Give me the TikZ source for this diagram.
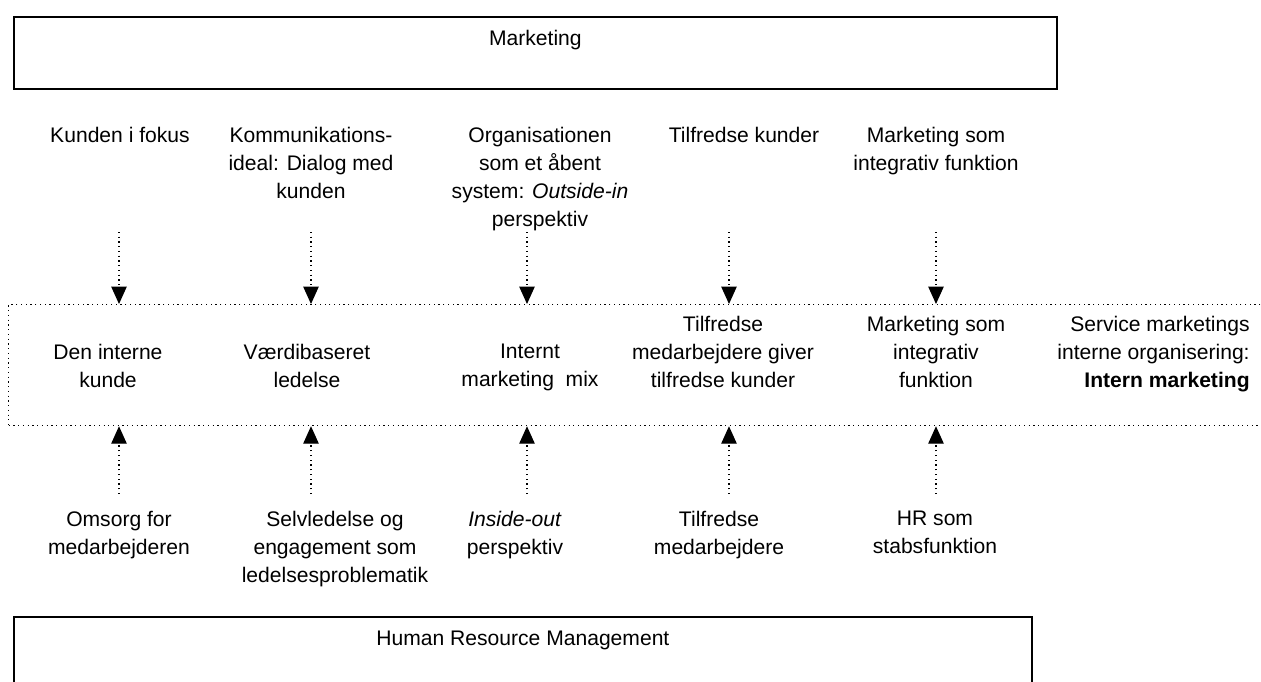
\documentclass[tikz,border=0pt]{standalone}
\usepackage{fontspec}
\setmainfont{Liberation Sans}
\usetikzlibrary{arrows.meta}

\tikzset{
  txt/.style={font=\fontsize{12}{16}\selectfont, align=center, inner sep=0pt},
  bigbox/.style={draw, line width=1pt, inner sep=0pt, font=\fontsize{12}{16}\selectfont, text height=5.8mm, text depth=8.6mm, anchor=north west},
  frame/.style={draw, dotted, line width=0.7pt, inner sep=0pt, anchor=north west},
  arr/.style={dotted, line width=0.7pt, -{Triangle[length=3.5mm,width=3.1mm]}}
}

\begin{document}
\begin{tikzpicture}[x=0.2mm,y=-0.2mm]
            \useasboundingbox (0,0) rectangle (1261,682);
            \node[bigbox, minimum width=208.6mm] (mkt) at (13,16) {Marketing};
            \node[bigbox, minimum width=203.6mm] (hrm) at (13,616) {Human Resource Management};
            \node[frame, minimum width=254mm, minimum height=24.2mm] (frame) at (8,304) {};
            \node[txt, anchor=north] (top1) at (120,127) {Kunden i fokus};
            \node[txt, anchor=north] (top2) at (311,127) {Kommunikations-\\ideal: Dialog med\\kunden};
            \node[txt, anchor=north] (top3) at (540,127) {Organisationen\\som et åbent\\system: \textit{Outside-in}\\perspektiv};
            \node[txt, anchor=north] (top4) at (744,127) {Tilfredse kunder};
            \node[txt, anchor=north] (top5) at (936,127) {Marketing som\\integrativ funktion};
            \node[txt, anchor=north] (mid1) at (108,343.5) {Den interne\\kunde};
            \node[txt, anchor=north] (mid2) at (307,343.5) {Værdibaseret\\ledelse};
            \node[txt, anchor=north] (mid3) at (530,343.5) {Internt\\marketing~ mix};
            \node[txt, anchor=north] (mid4) at (723,315.5) {Tilfredse\\medarbejdere giver\\tilfredse kunder};
            \node[txt, anchor=north] (mid5) at (936,315.5) {Marketing som\\integrativ\\funktion};
            \node[txt, anchor=north east, align=right] (mid6) at (1250,315.5) {Service marketings\\interne organisering:\\\textbf{Intern marketing}};
            \node[txt, anchor=north] (bot1) at (119,511) {Omsorg for\\medarbejderen};
            \node[txt, anchor=north] (bot2) at (335,511) {Selvledelse og\\engagement som\\ledelsesproblematik};
            \node[txt, anchor=north] (bot3) at (515,511) {\textit{Inside-out}\\perspektiv};
            \node[txt, anchor=north] (bot4) at (719,511) {Tilfredse\\medarbejdere};
            \node[txt, anchor=north] (bot5) at (935,511) {HR som\\stabsfunktion};
            \coordinate (up1) at (119,232);
            \coordinate (up2) at (311,232);
            \coordinate (up3) at (527,232);
            \coordinate (up4) at (729,232);
            \coordinate (up5) at (936,232);
            \coordinate (lo1) at (119,494);
            \coordinate (lo2) at (311,494);
            \coordinate (lo3) at (527,494);
            \coordinate (lo4) at (729,494);
            \coordinate (lo5) at (936,494);
            \draw[arr] (up1) -- (up1 |- frame.north);
            \draw[arr] (up2) -- (up2 |- frame.north);
            \draw[arr] (up3) -- (up3 |- frame.north);
            \draw[arr] (up4) -- (up4 |- frame.north);
            \draw[arr] (up5) -- (up5 |- frame.north);
            \draw[arr] (lo1) -- (lo1 |- frame.south);
            \draw[arr] (lo2) -- (lo2 |- frame.south);
            \draw[arr] (lo3) -- (lo3 |- frame.south);
            \draw[arr] (lo4) -- (lo4 |- frame.south);
            \draw[arr] (lo5) -- (lo5 |- frame.south);
            \end{tikzpicture}
\end{document}
